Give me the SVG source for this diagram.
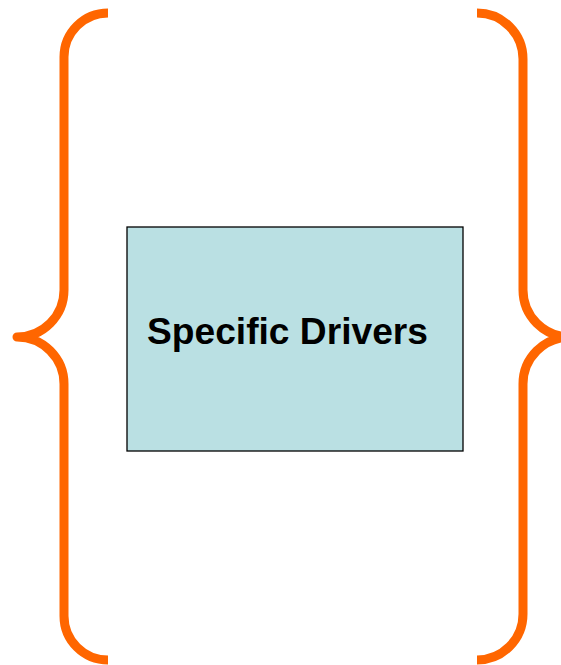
<svg xmlns="http://www.w3.org/2000/svg" width="561" height="665" viewBox="0 0 561 665">
<style>
.brace{fill:none;stroke:#FF6600;stroke-width:9;stroke-linejoin:round;stroke-linecap:butt}
.box{fill:#BAE0E3;stroke:#000;stroke-width:1.3}
.lbl{font-family:"Liberation Sans",Arial,sans-serif;font-weight:bold;font-size:36px;fill:#000}
</style>
<rect width="561" height="665" fill="#fff"/>
<g id="brace-left">
<path class="brace" d="M108,13 A44,44 0 0 0 64,57 L64,290 A47,47 0 0 1 17,337 A47,47 0 0 1 64,384 L64,616 A44,44 0 0 0 108,660"/>
</g>
<g id="brace-right">
<path class="brace" d="M477,13 A46,46 0 0 1 523,59 L523,290 A47,47 0 0 0 570,337 A47,47 0 0 0 523,384 L523,614 A46,46 0 0 1 477,660"/>
</g>
<g id="specific-drivers">
<rect class="box" x="127" y="227" width="336" height="224"/>
<text class="lbl" x="147" y="344" textLength="281" lengthAdjust="spacingAndGlyphs">Specific Drivers</text>
</g>
</svg>
